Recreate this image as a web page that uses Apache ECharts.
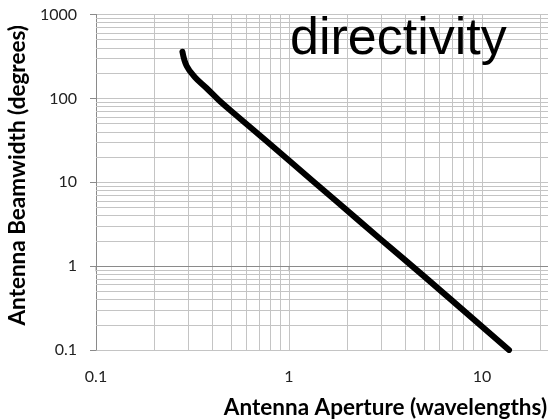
<!DOCTYPE html>
<html>
<head>
<meta charset="utf-8">
<script src="https://cdn.jsdelivr.net/npm/echarts@6/dist/echarts.min.js"></script>
<style>
html,body{margin:0;padding:0;background:#fff;}
#chart{width:548px;height:419px;}
</style>
</head>
<body>
<div id="chart"></div>
<script>
// Data
const apertureWavelengths = [0.2804, 0.295, 0.3246, 0.3733, 0.4375, 0.555, 1.008, 1.725, 2.95, 5.05, 13.8];
const beamwidthDegrees   = [360, 243, 180, 133, 93.1, 58.1, 17.9, 6.18, 2.14, 0.744, 0.1];

const xMinorGrid = [0.2,0.3,0.4,0.5,0.6,0.7,0.8,0.9, 2,3,4,5,6,7,8,9, 20,30,40,50,60,70,80,90];
const yMinorGrid = [0.2,0.3,0.4,0.5,0.6,0.7,0.8,0.9, 2,3,4,5,6,7,8,9, 20,30,40,50,60,70,80,90, 200,300,400,500,600,700,800,900];
const xMajorTicks = [0.1, 1, 10, 100];
const crossValue = 1; // horizontal axis crosses the vertical one at 1

const titleText = 'directivity';
const xName = 'Antenna Aperture (wavelengths)';
const yName = 'Antenna Beamwidth (degrees)';

const gridColor = '#c4c4c4';
const axisColor = '#8a8a8a';

const fmt = v => String(Number(Number(v).toPrecision(4)));

const chart = echarts.init(document.getElementById('chart'), null, {renderer: 'canvas'});

const minorLines = [];
xMinorGrid.forEach(v => minorLines.push({xAxis: v}));
yMinorGrid.forEach(v => minorLines.push({yAxis: v}));

chart.setOption({
  animation: false,
  backgroundColor: '#ffffff',
  title: {
    text: titleText,
    left: 290,
    top: 14,
    padding: 0,
    textStyle: {fontFamily: 'Liberation Sans', fontSize: 52, fontWeight: 'normal', color: '#000'}
  },
  grid: {left: 96, top: 14.5, bottom: 69, right: -127, containLabel: false, outerBoundsMode: 'none'},
  xAxis: {
    type: 'log', logBase: 10, min: 0.1, max: 100,
    name: xName, nameLocation: 'middle', nameGap: 46,
    nameTextStyle: {fontFamily: 'Lato', fontWeight: 'bold', fontSize: 22.5, color: '#000'},
    axisLine: {show: false},
    axisTick: {show: false},
    axisLabel: {margin: 19, fontFamily: 'Lato', fontSize: 16, color: '#222', formatter: fmt},
    splitLine: {show: true, lineStyle: {color: gridColor, width: 1}}
  },
  yAxis: {
    type: 'log', logBase: 10, min: 0.1, max: 1000,
    name: yName, nameLocation: 'middle', nameGap: 66, nameRotate: 90,
    nameTextStyle: {fontFamily: 'Lato', fontWeight: 'bold', fontSize: 22.5, color: '#000', padding: [0, 0, 0, 14]},
    axisLine: {show: true, lineStyle: {color: axisColor, width: 1}},
    axisTick: {show: true, length: 6, inside: false, lineStyle: {color: axisColor}},
    axisLabel: {margin: 19, fontFamily: 'Lato', fontSize: 16, color: '#222', formatter: fmt},
    splitLine: {show: true, lineStyle: {color: gridColor, width: 1}}
  },
  series: [
    {
      type: 'line',
      data: [],
      silent: true,
      markLine: {
        silent: true, symbol: 'none', animation: false,
        label: {show: false},
        lineStyle: {color: gridColor, width: 1, type: 'solid'},
        emphasis: {disabled: true},
        data: minorLines
      }
    },
    {
      type: 'line',
      data: [],
      silent: true,
      markLine: {
        silent: true, symbol: 'none', animation: false,
        label: {show: false},
        lineStyle: {color: axisColor, width: 1, type: 'solid'},
        emphasis: {disabled: true},
        data: [{yAxis: crossValue}]
      }
    },
    {
      type: 'scatter',
      silent: true,
      symbol: 'rect',
      symbolSize: [1, 5],
      symbolOffset: [0, 2.5],
      itemStyle: {color: axisColor},
      data: xMajorTicks.map(v => [v, crossValue]),
      z: 3
    },
    {
      type: 'line',
      data: apertureWavelengths.map((x, i) => [x, beamwidthDegrees[i]]),
      showSymbol: false,
      symbol: 'none',
      smooth: 0.4,
      lineStyle: {color: '#000', width: 6, cap: 'round', join: 'round'},
      z: 5
    }
  ]
});
</script>
</body>
</html>
